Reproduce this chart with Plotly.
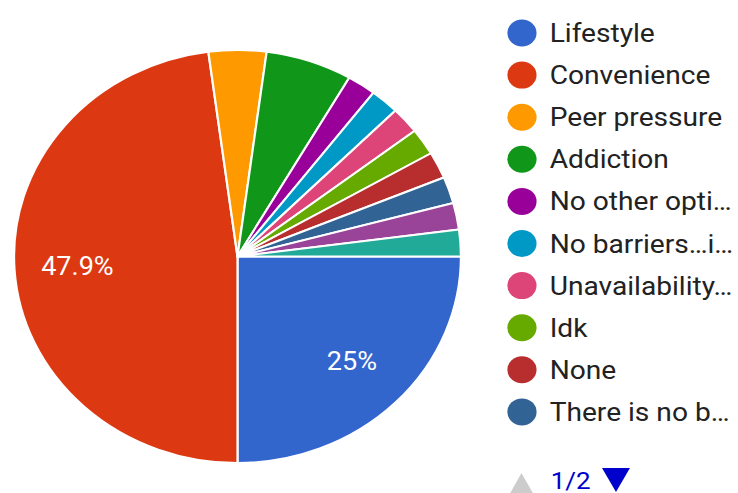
import math
import plotly.graph_objects as go

# ---- data ----
categories = ["Lifestyle", "Convenience", "Peer pressure", "Addiction",
              "No other opti…", "No barriers…i…", "Unavailability…", "Idk",
              "None", "There is no b…", "Other", "Other reasons"]
responses = [12, 23, 2, 3, 1, 1, 1, 1, 1, 1, 1, 1]
colors = ["#3366cc", "#dc3912", "#ff9900", "#109618", "#990099", "#0099c6",
          "#dd4477", "#66aa00", "#b82e2e", "#316395", "#994499", "#22aa99"]
legend_page = "1/2"
legend_count = 10

W, H = 682, 493          # drawn size before horizontal stretch
STRETCH = 1.082          # reference image is stretched horizontally

def px(x):
    return x / W

def py(y):
    return 1 - y / H

# pie geometry (pixels, before stretch)
PCX, PCY, PR = 219.5, 256.5, 206.5
START_DEG = 90           # first slice starts at 3 o'clock, clockwise

fig = go.Figure(go.Pie(
    labels=categories,
    values=responses,
    marker=dict(colors=colors, line=dict(color="white", width=2)),
    sort=False,
    direction="clockwise",
    rotation=START_DEG,
    textinfo="none",
    showlegend=False,
    hoverinfo="label+percent",
    domain=dict(x=[px(PCX - 211), px(PCX + 211)], y=[py(PCY + PR), py(PCY - PR)]),
))

shapes = []
annotations = []

# percentage labels on the large slices (placed at 72% of the radius on the mid angle)
total = sum(responses)
acc = 0
for v in responses:
    frac = v / total
    if frac > 0.1:
        mid = math.radians(START_DEG + 360 * (acc + frac / 2))
        d = 0.72 * PR
        x = PCX + d * math.sin(mid)
        y = PCY - d * math.cos(mid)
        annotations.append(dict(text=f"{frac * 100:.3g}%", xref="paper", yref="paper",
                                x=px(x), y=py(y), xanchor="center", yanchor="middle",
                                showarrow=False,
                                font=dict(family="Roboto", size=25, color="white")))
    acc += frac

cx_leg = 482.4
for i in range(legend_count):
    yc = 33 + 42.1 * i
    shapes.append(dict(type="circle", xref="paper", yref="paper",
                       x0=px(cx_leg - 13.5), x1=px(cx_leg + 13.5),
                       y0=py(yc + 13.5), y1=py(yc - 13.5),
                       fillcolor=colors[i], line=dict(width=0)))
    annotations.append(dict(text=categories[i], xref="paper", yref="paper",
                            x=px(505.5), y=py(yc), xanchor="left", yanchor="middle",
                            showarrow=False,
                            font=dict(family="Roboto", size=26, color="#222222")))

# pager
shapes.append(dict(type="path", xref="paper", yref="paper",
                   path=f"M {px(469.5)} {py(497)} L {px(494.5)} {py(497)} L {px(482)} {py(473)} Z",
                   fillcolor="#cccccc", line=dict(width=0)))
shapes.append(dict(type="path", xref="paper", yref="paper",
                   path=f"M {px(556.4)} {py(468)} L {px(582.2)} {py(468)} L {px(569.3)} {py(492)} Z",
                   fillcolor="#0000cc", line=dict(width=0)))
annotations.append(dict(text=legend_page, xref="paper", yref="paper",
                        x=px(507), y=py(481), xanchor="left", yanchor="middle",
                        showarrow=False,
                        font=dict(family="Roboto", size=24, color="#0000cc")))

fig.update_layout(
    width=W, height=H,
    margin=dict(l=0, r=0, t=0, b=0),
    paper_bgcolor="white", plot_bgcolor="white",
    shapes=shapes, annotations=annotations,
)

post = """
document.body.style.margin = '0';
var gd = document.getElementById('{plot_id}');
gd.style.transformOrigin = '0 0';
gd.style.transform = 'scaleX(%s)';
""" % STRETCH

fig.write_html("out.html", post_script=post, config={"displayModeBar": False})
